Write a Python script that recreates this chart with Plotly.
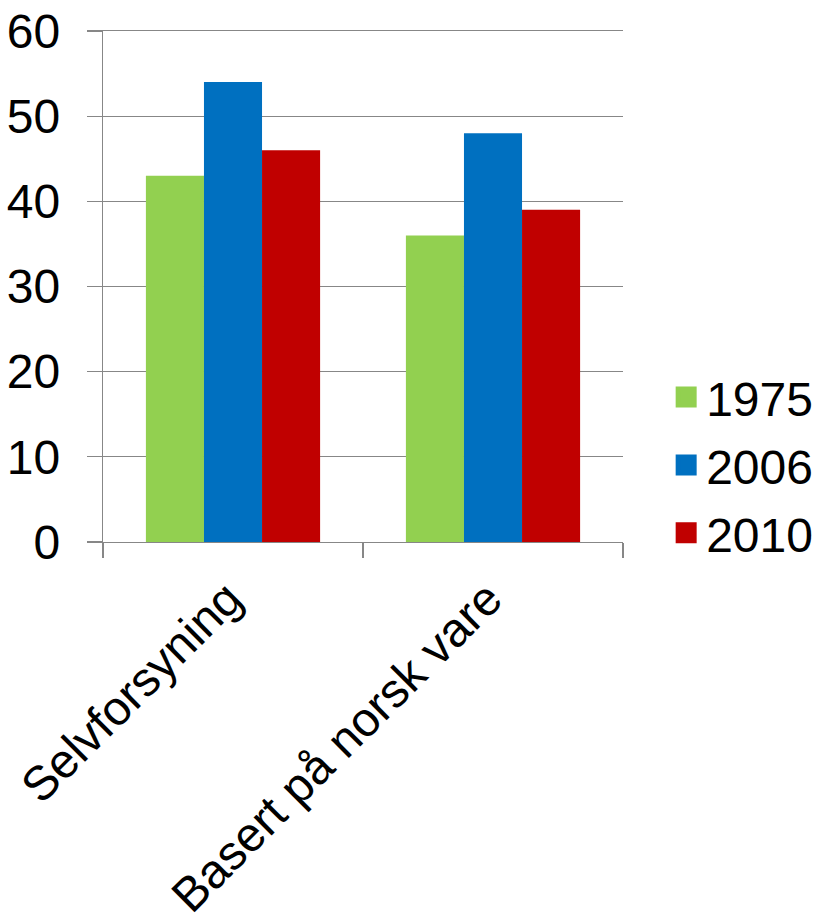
import plotly.graph_objects as go

categories = ["Selvforsyning", "Basert på norsk vare"]
years = ["1975", "2006", "2010"]
values_1975 = [43, 36]
values_2006 = [54, 48]
values_2010 = [46, 39]
colors = ["#92D050", "#0070C0", "#C00000"]
y_ticks = [0, 10, 20, 30, 40, 50, 60]

series = [values_1975, values_2006, values_2010]

fig = go.Figure()
for name, vals, col in zip(years, series, colors):
    fig.add_trace(go.Bar(x=categories, y=vals, name=name, marker_color=col,
                         marker_line_width=0, showlegend=False))
    fig.add_trace(go.Scatter(x=[None], y=[None], mode="markers", name=name,
                             legendgroup=name,
                             marker=dict(symbol="square", size=16, color=col,
                                         line=dict(color=col, width=5)),
                             showlegend=True))

fig.update_layout(
    width=815, height=914,
    margin=dict(l=103, r=192, t=31, b=372, autoexpand=False),
    paper_bgcolor="white", plot_bgcolor="white",
    font=dict(family="Liberation Sans, Arial, sans-serif", size=48, color="black"),
    barmode="group", bargap=0.33, bargroupgap=0,
    legend=dict(x=1.083, xanchor="left", y=0.15, yanchor="middle",
                font=dict(size=48), tracegroupgap=2.5, itemsizing="trace",
                bgcolor="rgba(0,0,0,0)"),
    showlegend=True,
)
fig.update_yaxes(range=[0, 60], tickvals=y_ticks, showgrid=True, gridcolor="#878787",
                 gridwidth=1.3, showline=True, linecolor="#878787", linewidth=1.3,
                 ticks="outside", ticklen=15, tickcolor="#878787", tickwidth=1.3,
                 zeroline=False, ticklabelstandoff=17, fixedrange=True, automargin=False,
                 ticklabeloverflow="allow")
fig.update_xaxes(showline=True, mirror=True, linecolor="#878787", linewidth=1.3,
                 ticks="outside", tickson="boundaries", ticklen=15, tickcolor="#878787",
                 tickwidth=1.3, tickangle=-45, showgrid=False, fixedrange=True,
                 automargin=False, ticklabeloverflow="allow",
                 ticklabelstandoff=8, ticklabelshift=-5)

reset_page = ("document.body.style.margin='0';"
              "document.body.style.overflow='hidden';"
              "document.documentElement.style.overflow='hidden';")

fig.write_html("out.html", post_script=reset_page,
               config={"displayModeBar": False, "staticPlot": True})
